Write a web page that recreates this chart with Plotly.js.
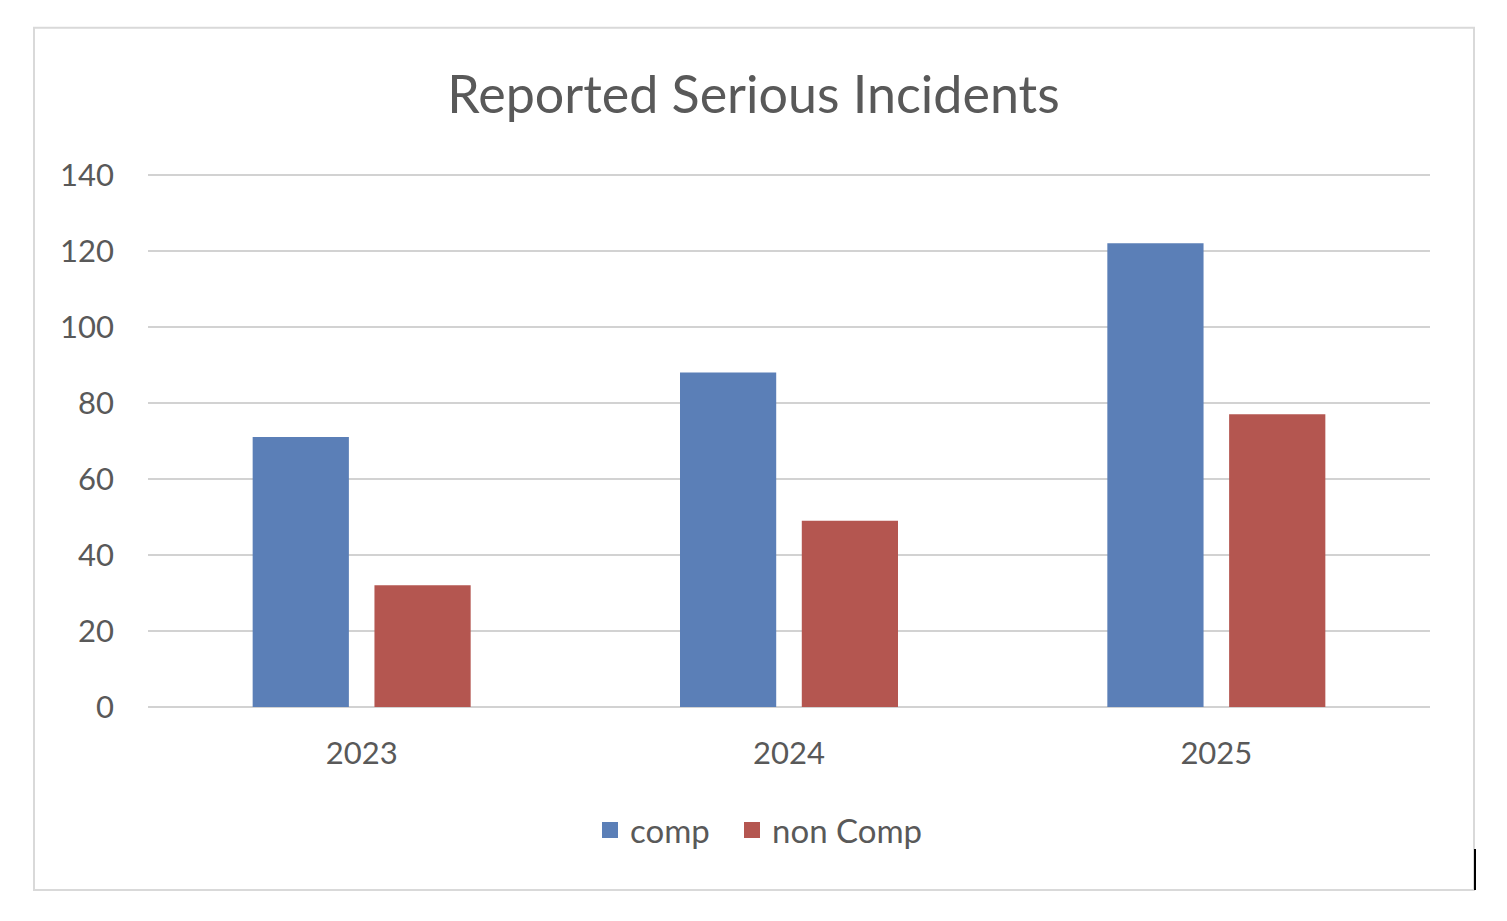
<!DOCTYPE html>
<html>
<head>
<meta charset="utf-8">
<script src="https://cdn.plot.ly/plotly-3.0.1.min.js"></script>
<style>
html,body{margin:0;padding:0;background:#fff;}
#chart{width:1507px;height:921px;}
</style>
</head>
<body>
<div id="chart"></div>
<script>
const years = ["2023", "2024", "2025"];
const compValues = [71, 88, 122];
const nonCompValues = [32, 49, 77];
const seriesNames = ["comp", "non Comp"];
const seriesColors = ["#5b7fb7", "#b45650"];
const yTicks = [0, 20, 40, 60, 80, 100, 120, 140];

const W = 1507, H = 921;
const yMax = 141;
const unit = 3.8;
const L = 148, R = 1430, B = 707, T = B - yMax * unit;
const pw = R - L, ph = B - T;
const px = x => (x - L) / pw;
const py = y => (B - y) / ph;

const font = "Lato, 'Open Sans', sans-serif";
const txt = "#595959";

const traces = [
  {type: "bar", name: seriesNames[0], x: years, y: compValues,
   marker: {color: seriesColors[0]}, showlegend: false},
  {type: "bar", name: seriesNames[1], x: years, y: nonCompValues,
   marker: {color: seriesColors[1]}, showlegend: false},
  {type: "scatter", mode: "markers", name: seriesNames[0], x: [null], y: [null],
   marker: {symbol: "square", size: 16, color: seriesColors[0]}, showlegend: true, legend: "legend"},
  {type: "scatter", mode: "markers", name: seriesNames[1], x: [null], y: [null],
   marker: {symbol: "square", size: 16, color: seriesColors[1]}, showlegend: true, legend: "legend2"}
];

const legendBase = {orientation: "h", xanchor: "left", xref: "paper", y: py(830), yanchor: "middle",
  font: {family: font, size: 33, color: txt}, itemwidth: 30, itemclick: false, bgcolor: "rgba(0,0,0,0)"};

const layout = {
  width: W, height: H,
  margin: {l: L, r: W - R, t: T, b: H - B, pad: 0},
  paper_bgcolor: "#fff", plot_bgcolor: "#fff",
  font: {family: font, color: txt},
  title: {text: "Reported Serious Incidents", font: {family: font, size: 52, color: txt},
          x: 0.5, xanchor: "center", xref: "container", y: 1 - 95 / H, yanchor: "middle", yref: "container"},
  barmode: "group", bargap: 0.43, bargroupgap: 0.21,
  xaxis: {type: "category", showgrid: false, zeroline: false, showline: false, ticks: "",
          tickfont: {family: font, size: 31, color: txt}, ticklabelstandoff: 25},
  yaxis: {range: [0, yMax], tickvals: yTicks, showgrid: true, gridcolor: "#d2d2d2", gridwidth: 2.5,
          zeroline: true, zerolinecolor: "#d2d2d2", zerolinewidth: 2.5, showline: false, ticks: "",
          tickfont: {family: font, size: 31, color: txt}, ticklabelstandoff: 33},
  showlegend: true,
  legend: Object.assign({}, legendBase, {x: px(590)}),
  legend2: Object.assign({}, legendBase, {x: px(732)}),
  shapes: [
    {type: "rect", xref: "paper", yref: "paper", x0: px(34), x1: px(1474), y0: py(890), y1: py(28),
     line: {color: "#d9d9d9", width: 2}, fillcolor: "rgba(0,0,0,0)", layer: "below"},
    {type: "line", xref: "paper", yref: "paper", x0: px(1475), x1: px(1475), y0: py(849), y1: py(890),
     line: {color: "#000", width: 2}}
  ]
};

Plotly.newPlot("chart", traces, layout, {displayModeBar: false, staticPlot: true});
</script>
</body>
</html>
